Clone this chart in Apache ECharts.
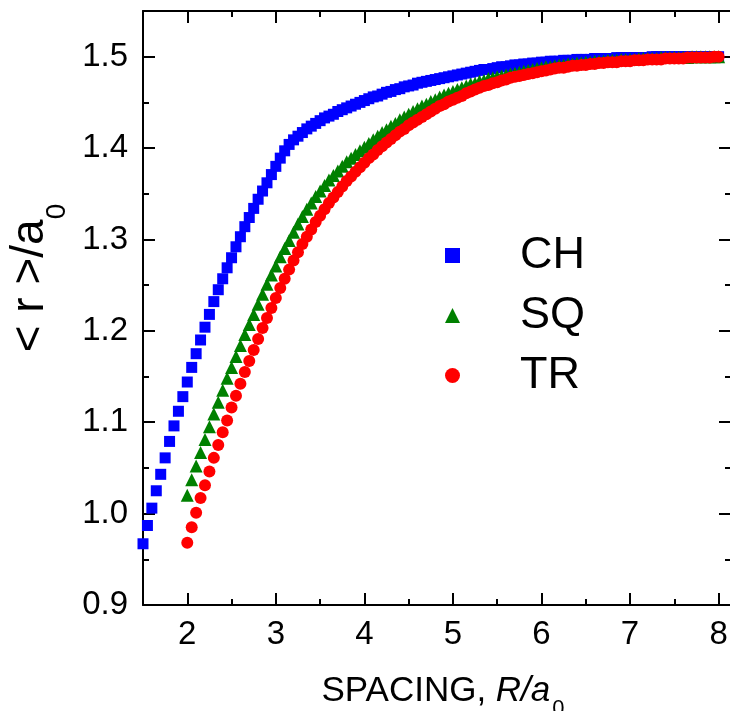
<!DOCTYPE html>
<html>
<head>
<meta charset="utf-8">
<script src="https://cdn.jsdelivr.net/npm/echarts@6/dist/echarts.min.js"></script>
<style>
html,body{margin:0;padding:0;background:#fff;}
#chart{width:730px;height:711px;}
</style>
</head>
<body>
<div id="chart"></div>
<script>
// Sample positions R/a0
var rCH = [1.50,1.55,1.60,1.65,1.70,1.75,1.80,1.85,1.90,1.95,
2.00,2.05,2.10,2.15,2.20,2.25,2.30,2.35,2.40,2.45,
2.50,2.55,2.60,2.65,2.70,2.75,2.80,2.85,2.90,2.95,
3.00,3.05,3.10,3.15,3.20,3.25,3.30,3.35,3.40,3.45,
3.50,3.55,3.60,3.65,3.70,3.75,3.80,3.85,3.90,3.95,
4.00,4.05,4.10,4.15,4.20,4.25,4.30,4.35,4.40,4.45,
4.50,4.55,4.60,4.65,4.70,4.75,4.80,4.85,4.90,4.95,
5.00,5.05,5.10,5.15,5.20,5.25,5.30,5.35,5.40,5.45,
5.50,5.55,5.60,5.65,5.70,5.75,5.80,5.85,5.90,5.95,
6.00,6.05,6.10,6.15,6.20,6.25,6.30,6.35,6.40,6.45,
6.50,6.55,6.60,6.65,6.70,6.75,6.80,6.85,6.90,6.95,
7.00,7.05,7.10,7.15,7.20,7.25,7.30,7.35,7.40,7.45,
7.50,7.55,7.60,7.65,7.70,7.75,7.80,7.85,7.90,7.95,8.00];
var rSQTR = [2.00,2.05,2.10,2.15,2.20,2.25,2.30,2.35,2.40,2.45,
2.50,2.55,2.60,2.65,2.70,2.75,2.80,2.85,2.90,2.95,
3.00,3.05,3.10,3.15,3.20,3.25,3.30,3.35,3.40,3.45,
3.50,3.55,3.60,3.65,3.70,3.75,3.80,3.85,3.90,3.95,
4.00,4.05,4.10,4.15,4.20,4.25,4.30,4.35,4.40,4.45,
4.50,4.55,4.60,4.65,4.70,4.75,4.80,4.85,4.90,4.95,
5.00,5.05,5.10,5.15,5.20,5.25,5.30,5.35,5.40,5.45,
5.50,5.55,5.60,5.65,5.70,5.75,5.80,5.85,5.90,5.95,
6.00,6.05,6.10,6.15,6.20,6.25,6.30,6.35,6.40,6.45,
6.50,6.55,6.60,6.65,6.70,6.75,6.80,6.85,6.90,6.95,
7.00,7.05,7.10,7.15,7.20,7.25,7.30,7.35,7.40,7.45,
7.50,7.55,7.60,7.65,7.70,7.75,7.80,7.85,7.90,7.95,8.00];

var valCH = [0.967,0.987,1.006,1.025,1.043,1.061,1.079,1.096,1.112,1.128,
1.144,1.160,1.175,1.190,1.204,1.218,1.232,1.245,1.257,1.269,
1.280,1.292,1.303,1.314,1.324,1.334,1.344,1.353,1.362,1.371,
1.380,1.389,1.397,1.404,1.409,1.413,1.417,1.421,1.424,1.427,
1.430,1.433,1.435,1.437,1.440,1.442,1.444,1.446,1.448,1.450,
1.452,1.454,1.456,1.457,1.459,1.461,1.462,1.464,1.465,1.467,
1.468,1.469,1.471,1.472,1.473,1.474,1.475,1.476,1.477,1.478,
1.479,1.480,1.481,1.482,1.483,1.484,1.485,1.486,1.486,1.487,
1.488,1.489,1.489,1.490,1.491,1.491,1.492,1.492,1.493,1.493,
1.494,1.494,1.495,1.495,1.495,1.496,1.496,1.496,1.497,1.497,
1.497,1.497,1.498,1.498,1.498,1.498,1.498,1.499,1.499,1.499,
1.499,1.499,1.499,1.499,1.499,1.500,1.500,1.500,1.500,1.500,
1.500,1.500,1.500,1.500,1.500,1.500,1.500,1.500,1.500,1.500,1.500];

var valSQ = [1.020,1.037,1.052,1.067,1.081,1.095,1.109,1.122,1.135,1.148,
1.160,1.172,1.184,1.196,1.207,1.218,1.229,1.240,1.251,1.261,
1.271,1.281,1.290,1.299,1.308,1.317,1.325,1.333,1.340,1.347,
1.353,1.359,1.365,1.370,1.375,1.380,1.385,1.389,1.393,1.397,
1.401,1.405,1.409,1.413,1.417,1.420,1.424,1.427,1.431,1.434,
1.437,1.440,1.443,1.446,1.448,1.451,1.453,1.456,1.458,1.460,
1.462,1.464,1.466,1.468,1.470,1.471,1.473,1.474,1.476,1.477,
1.478,1.479,1.480,1.481,1.482,1.483,1.484,1.485,1.486,1.487,
1.488,1.489,1.489,1.490,1.491,1.491,1.492,1.492,1.493,1.493,
1.494,1.494,1.495,1.495,1.495,1.496,1.496,1.496,1.497,1.497,
1.497,1.497,1.498,1.498,1.498,1.498,1.498,1.499,1.499,1.499,
1.499,1.499,1.499,1.499,1.500,1.500,1.500,1.500,1.500,1.500,1.500];

var valTR = [0.968,0.985,1.001,1.017,1.031,1.046,1.061,1.075,1.089,1.102,
1.116,1.129,1.142,1.155,1.167,1.179,1.191,1.203,1.214,1.225,
1.236,1.247,1.257,1.267,1.277,1.286,1.295,1.303,1.311,1.319,
1.326,1.333,1.340,1.346,1.352,1.358,1.364,1.369,1.374,1.379,
1.384,1.389,1.393,1.398,1.402,1.406,1.410,1.414,1.418,1.421,
1.425,1.428,1.431,1.434,1.437,1.440,1.443,1.446,1.448,1.451,
1.453,1.455,1.457,1.460,1.462,1.464,1.466,1.468,1.469,1.471,
1.472,1.474,1.475,1.477,1.478,1.479,1.480,1.481,1.482,1.483,
1.484,1.485,1.486,1.487,1.488,1.488,1.489,1.490,1.490,1.491,
1.491,1.492,1.492,1.493,1.493,1.494,1.494,1.494,1.495,1.495,
1.495,1.496,1.496,1.496,1.497,1.497,1.497,1.497,1.498,1.498,
1.498,1.498,1.498,1.499,1.499,1.499,1.499,1.499,1.499,1.500,1.500];

var xMajor = [2,3,4,5,6,7,8];
var xMinor = [2.5,3.5,4.5,5.5,6.5,7.5];
var yMajor = [0.9,1.0,1.1,1.2,1.3,1.4,1.5];
var yMinor = [0.95,1.05,1.15,1.25,1.35,1.45,1.55];

var seriesNames = ['CH','SQ','TR'];
var colors = ['#0000ff','#008000','#ff0000'];

function pairs(xs, ys){ var o=[]; for(var i=0;i<ys.length;i++){o.push([xs[i],ys[i]]);} return o; }

var FONT = "'Liberation Sans', Arial, sans-serif";
var X_MIN = 1.5, X_MAX = 8.14, Y_MIN = 0.9, Y_MAX = 1.55;

function xAx(pos, major, showLine, showLabel){
  return {
    type:'value', position:pos, min:X_MIN, max:X_MAX,
    axisLine:{show:showLine, onZero:false, lineStyle:{color:'#000', width:2}},
    splitLine:{show:false},
    axisTick:{show:true, inside:true, length: major?12:6, lineStyle:{color:'#000', width:2},
      customValues: major?xMajor:xMinor},
    axisLabel:{show:showLabel, customValues:xMajor, color:'#000', fontSize:33, fontFamily:FONT, margin:13,
      formatter:function(v){return String(Math.round(v));}}
  };
}
function yAx(pos, major, showLine, showLabel){
  return {
    type:'value', position:pos, min:Y_MIN, max:Y_MAX,
    axisLine:{show:showLine, onZero:false, lineStyle:{color:'#000', width:2}},
    splitLine:{show:false},
    axisTick:{show:true, inside:true, length: major?12:6, lineStyle:{color:'#000', width:2},
      customValues: major?yMajor:yMinor},
    axisLabel:{show:showLabel, customValues:yMajor, color:'#000', fontSize:33, fontFamily:FONT, margin:15,
      formatter:function(v){ return (Math.round(v*10)/10).toFixed(1); }}
  };
}

var xAxes = [xAx('bottom',true,true,true), xAx('bottom',false,false,false), xAx('top',true,true,false), xAx('top',false,false,false)];
xAxes[0].name = '{n|SPACING, }{i|R/a}{s|0}';
xAxes[0].nameLocation = 'middle';
xAxes[0].nameGap = 69;
xAxes[0].nameTextStyle = {color:'#000', fontFamily:FONT, padding:[0,0,0,12], rich:{
  n:{fontSize:35, fontFamily:FONT, color:'#000', lineHeight:35, verticalAlign:'top'},
  i:{fontSize:35, fontFamily:FONT, fontStyle:'italic', color:'#000', lineHeight:35, verticalAlign:'top'},
  s:{fontSize:22, fontFamily:FONT, color:'#000', lineHeight:52, verticalAlign:'top', padding:[24,0,0,2]}
}};
var yAxes = [yAx('left',true,true,true), yAx('left',false,false,false), yAx('right',true,true,false), yAx('right',false,false,false)];
yAxes[0].name = '{n|< r >/a}{s|0}';
yAxes[0].nameLocation = 'middle';
yAxes[0].nameGap = 82;
yAxes[0].nameTextStyle = {color:'#000', fontFamily:FONT, padding:[0,0,0,60], rich:{
  n:{fontSize:46, fontFamily:FONT, color:'#000', lineHeight:46, verticalAlign:'top'},
  s:{fontSize:28, fontFamily:FONT, color:'#000', lineHeight:46, verticalAlign:'top', padding:[36,0,0,0]}
}};

var symbols = ['rect','triangle','circle'];
var sizes = [11,13,12];
var xsList = [rCH, rSQTR, rSQTR];
var ysList = [valCH, valSQ, valTR];

var series = seriesNames.map(function(n,i){
  return {
    name:n, type:'scatter', xAxisIndex:0, yAxisIndex:0,
    symbol:symbols[i], symbolSize:sizes[i],
    itemStyle:{color:colors[i], opacity:1},
    data:pairs(xsList[i], ysList[i]),
    clip:true, silent:true
  };
});

var chart = echarts.init(document.getElementById('chart'), null, {renderer:'canvas'});
chart.setOption({
  animation:false,
  backgroundColor:'#fff',
  grid:{left:143, top:11, width:588, height:594, containLabel:false, outerBoundsMode:'none'},
  xAxis:xAxes,
  yAxis:yAxes,
  legend:{
    data:seriesNames.map(function(n,i){return {name:n, icon:symbols[i]};}),
    orient:'vertical', left:440, top:228, itemWidth:15, itemHeight:15, itemGap:15,
    selectedMode:false,
    textStyle:{fontSize:45, fontFamily:FONT, color:'#000', padding:[0,0,0,55]}
  },
  series:series
});
</script>
</body>
</html>
